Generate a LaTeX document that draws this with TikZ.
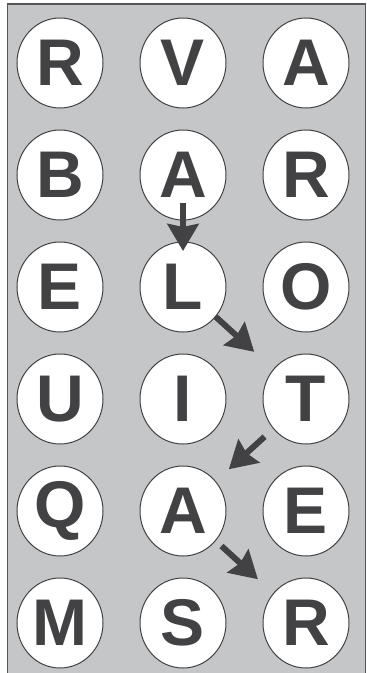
\documentclass[tikz,border=0pt]{standalone}
\usepackage{fontspec}
\setmainfont{Liberation Sans}
\usepackage{xcolor}
\usepackage{tikz}
\usetikzlibrary{arrows.meta,positioning,shapes.geometric}

\definecolor{panelgray}{RGB}{197,198,200}
\definecolor{inkgray}{RGB}{66,66,68}

\begin{document}
\begin{tikzpicture}[
    node distance=21pt and 36pt,
    letter/.style={ellipse, draw=inkgray, line width=1pt, fill=white, minimum width=86pt, minimum height=90pt, inner sep=0pt, text=inkgray, font=\fontsize{66}{66}\selectfont\bfseries},
    arrow/.style={-{Stealth[length=27pt, width=31pt, inset=3pt]}, line width=6pt, draw=inkgray}
]
\useasboundingbox (0,0) rectangle (367pt,-673pt);
\draw[fill=panelgray, draw=inkgray!90, line width=1.5pt] (7.5pt,-4pt) rectangle (365.5pt,-700pt);

\node[letter] (R1) at (60pt,-63pt) {R};
\node[letter, right=of R1] (V1) {V};
\node[letter, right=of V1] (A1) {A};
\node[letter, below=of R1] (B2) {B};
\node[letter, right=of B2] (A2) {A};
\node[letter, right=of A2] (R2) {R};
\node[letter, below=of B2] (E3) {E};
\node[letter, right=of E3] (L3) {L};
\node[letter, right=of L3] (O3) {O};
\node[letter, below=of E3] (U4) {U};
\node[letter, right=of U4] (I4) {I};
\node[letter, right=of I4] (T4) {T};
\node[letter, below=of U4] (Q5) {Q};
\node[letter, right=of Q5] (A5) {A};
\node[letter, right=of A5] (E5) {E};
\node[letter, below=of Q5] (M6) {M};
\node[letter, right=of M6] (S6) {S};
\node[letter, right=of S6] (R6) {R};

\draw[arrow, shorten <=28pt, shorten >=36pt] (A2.center) -- (L3.center);
\draw[arrow, shorten <=44pt, shorten >=70pt] (L3.center) -- (T4.center);
\draw[arrow, shorten <=56pt, shorten >=62pt] (T4.center) -- (A5.center);
\draw[arrow, shorten <=52pt, shorten >=65pt] (A5.center) -- (R6.center);
\end{tikzpicture}
\end{document}
